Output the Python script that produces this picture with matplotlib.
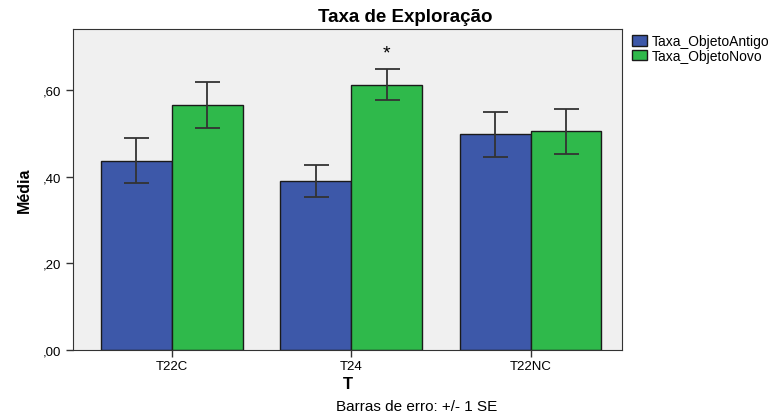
import matplotlib
matplotlib.use('Agg')
import matplotlib.pyplot as plt
import numpy as np

plt.rcParams['font.family'] = ['Liberation Sans', 'DejaVu Sans']

# data
groups = ['T22C', 'T24', 'T22NC']
antigo_mean = [0.437, 0.390, 0.498]
antigo_se = [0.052, 0.036, 0.052]
novo_mean = [0.566, 0.612, 0.505]
novo_se = [0.053, 0.036, 0.052]
y_ticks = [0.0, 0.2, 0.4, 0.6]
y_tick_labels = [',00', ',20', ',40', ',60']

fig = plt.figure(figsize=(7.75, 4.14), dpi=100)
ax = fig.add_axes([0.0942, 0.1522, 0.7084, 0.7754])
ax.set_facecolor('#f0f0f0')

x = np.arange(len(groups))
w = 0.395
ax.bar(x - w / 2, antigo_mean, w, color='#3d58a9', edgecolor='#1a1a1a',
       linewidth=1, label='Taxa_ObjetoAntigo', zorder=2)
ax.bar(x + w / 2, novo_mean, w, color='#2fb94b', edgecolor='#1a1a1a',
       linewidth=1, label='Taxa_ObjetoNovo', zorder=2)
ax.errorbar(x - w / 2, antigo_mean, yerr=antigo_se, fmt='none',
            ecolor='#333333', elinewidth=1.3, capsize=9, capthick=1.3, zorder=3)
ax.errorbar(x + w / 2, novo_mean, yerr=novo_se, fmt='none',
            ecolor='#333333', elinewidth=1.3, capsize=9, capthick=1.3, zorder=3)

# significance mark
ax.text(x[1] + w / 2, novo_mean[1] + novo_se[1] + 0.037, '*',
        ha='center', va='center', fontsize=14)

ax.set_xlim(-0.55, 2.51)
ax.set_ylim(0, 0.741)
ax.set_xticks(x)
ax.set_xticklabels(groups, fontsize=9.5)
ax.set_yticks(y_ticks)
ax.set_yticklabels(y_tick_labels, fontsize=9.5)
ax.tick_params(length=5, width=1, color='#333333')
ax.tick_params(axis='x', pad=2)
for s in ax.spines.values():
    s.set_color('#333333')

fig.text(0.523, 0.957, 'Taxa de Exploração', ha='center', va='center',
         fontsize=13.5, fontweight='bold')
ax.set_ylabel('Média', fontsize=11.5, fontweight='bold', labelpad=8)
ax.set_xlabel('T', fontsize=12, fontweight='bold', labelpad=3)

ax.legend(loc='upper left', bbox_to_anchor=(1.003, 1.01), fontsize=10,
          frameon=False, handlelength=1.1, handleheight=0.8,
          handletextpad=0.3, labelspacing=0.05, borderaxespad=0.2)

fig.text(0.537, 0.017, 'Barras de erro: +/- 1 SE', ha='center', va='center',
         fontsize=11)

fig.savefig('out.png', dpi=100)
